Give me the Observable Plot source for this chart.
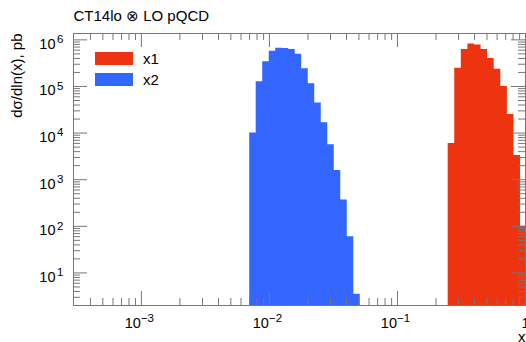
<!DOCTYPE html>
<html><head><meta charset="utf-8">
<script src="https://cdn.jsdelivr.net/npm/d3@7"></script>
<script src="https://cdn.jsdelivr.net/npm/@observablehq/plot@0.6"></script>
<style>
body{margin:0;background:#fff;}
#wrap{position:relative;width:526px;height:342px;overflow:hidden;font-family:"Liberation Sans",Arial,Helvetica,sans-serif;}
#wrap svg{display:block;}
.leg{position:absolute;left:95px;height:13px;display:flex;align-items:center;font-size:15px;color:#000;}
.sw{width:38px;height:13px;margin-right:10px;flex:none;}
</style></head><body><div id="wrap"></div>
<script>
// ---- data ----
const title = "CT14lo \u2297 LO pQCD";
const yLabel = "d\u03c3/dln(x), pb";
const xLabel = "x";
const seriesNames = ["x1", "x2"];
const seriesColors = ["#ee3311", "#3366ff"];

// x1 histogram: bin edges (x) and bin contents
const x1Edges = [0.2489, 0.2802, 0.3153, 0.3549, 0.3995, 0.4498, 0.5062, 0.5698, 0.6414, 0.7220, 0.8128, 0.9149, 1.0];
const x1Values = [6.0e3, 2.46e5, 6.2e5, 8.2e5, 7.8e5, 6.2e5, 4.0e5, 2.34e5, 1.0e5, 2.5e4, 3.3e3, 1.0e2];

// x2 histogram
const x2Edges = [0.007015, 0.007884, 0.008863, 0.009963, 0.01120, 0.01259, 0.01415, 0.01591, 0.01788, 0.02010,
                 0.02259, 0.02540, 0.02855, 0.03209, 0.03607, 0.04055, 0.04558, 0.05124];
const x2Values = [1.0e4, 1.27e5, 3.4e5, 5.7e5, 6.6e5, 6.5e5, 6.2e5, 4.9e5, 2.4e5, 1.14e5,
                  4.4e4, 1.66e4, 5.6e3, 1.57e3, 369, 60, 3.5];

// axes
const xDomain = [2.95e-4, 1];
const yDomain = [2, 1.37e6];
const xDecadeTicks = [1e-3, 1e-2, 1e-1];
const xDecadeExponents = ["\u22123", "\u22122", "\u22121"];
const xUnitTick = [1];
const xUnitLabel = ["1"];
const yDecadeTicks = [1e1, 1e2, 1e3, 1e4, 1e5, 1e6];
const yDecadeExponents = ["1", "2", "3", "4", "5", "6"];
const minorMultipliers = [2, 3, 4, 5, 6, 7, 8, 9];

// ---- layout ----
const W = 526, H = 342;
const mL = 73, mR = 1, mT = 33, mB = 37;
const fw = W - mL - mR, fh = H - mT - mB;
const majorLen = 14, minorLen = 7;
const axisColor = "#777";

const xMajorAll = [...xDecadeTicks, ...xUnitTick];
const xMinor = [];
for (const d of [1e-4, 1e-3, 1e-2, 1e-1]) for (const m of minorMultipliers) {
  const v = d * m; if (v > xDomain[0] * 1.05 && v < xDomain[1]) xMinor.push(v);
}
const yMinor = [];
for (const d of [1, 1e1, 1e2, 1e3, 1e4, 1e5, 1e6]) for (const m of minorMultipliers) {
  const v = d * m; if (v > yDomain[0] * 1.02 && v < yDomain[1]) yMinor.push(v);
}

function steps(edges, values) {
  const rows = values.map((v, i) => ({x: edges[i], y: v}));
  rows.push({x: edges[edges.length - 1], y: values[values.length - 1]});
  return rows;
}
const hists = [
  {rows: steps(x1Edges, x1Values), color: seriesColors[0]},
  {rows: steps(x2Edges, x2Values), color: seriesColors[1]}
];

const fontBase = 14.5, fontSup = 11.5;

const chart = Plot.plot({
  width: W, height: H,
  marginLeft: mL, marginRight: mR, marginTop: mT, marginBottom: mB,
  style: {fontFamily: '"Liberation Sans", Arial, Helvetica, sans-serif', background: "#fff", color: "#000"},
  x: {type: "log", domain: xDomain, axis: null},
  y: {type: "log", domain: yDomain, axis: null},
  marks: [
    ...hists.map(h => Plot.areaY(h.rows, {x: "x", y1: yDomain[0], y2: "y", curve: "step-after", fill: h.color, clip: true})),
    // ticks (inward, mirrored on all four sides)
    Plot.ruleX(xMajorAll, {x: d => d, insetTop: fh - majorLen, stroke: axisColor}),
    Plot.ruleX(xMajorAll, {x: d => d, insetBottom: fh - majorLen, stroke: axisColor}),
    Plot.ruleX(xMinor, {x: d => d, insetTop: fh - minorLen, stroke: axisColor}),
    Plot.ruleX(xMinor, {x: d => d, insetBottom: fh - minorLen, stroke: axisColor}),
    Plot.ruleY(yDecadeTicks, {y: d => d, insetRight: fw - majorLen, stroke: axisColor}),
    Plot.ruleY(yDecadeTicks, {y: d => d, insetLeft: fw - majorLen, stroke: axisColor}),
    Plot.ruleY(yMinor, {y: d => d, insetRight: fw - minorLen, stroke: axisColor}),
    Plot.ruleY(yMinor, {y: d => d, insetLeft: fw - minorLen, stroke: axisColor}),
    Plot.frame({stroke: axisColor}),
    // x tick labels
    Plot.text(xDecadeTicks, {x: d => d, text: () => "10", frameAnchor: "bottom", textAnchor: "end", lineAnchor: "bottom", dy: 22, dx: -0.5, fontSize: fontBase, fill: "#000"}),
    Plot.text(xDecadeTicks, {x: d => d, text: xDecadeExponents, frameAnchor: "bottom", textAnchor: "start", lineAnchor: "bottom", dy: 16, dx: -0.5, fontSize: fontSup, fill: "#000"}),
    Plot.text(xUnitTick, {x: d => d, text: xUnitLabel, frameAnchor: "bottom", textAnchor: "middle", lineAnchor: "bottom", dy: 22, fontSize: fontBase, fill: "#000"}),
    // y tick labels
    Plot.text(yDecadeTicks, {y: d => d, text: () => "10", frameAnchor: "left", textAnchor: "end", lineAnchor: "bottom", dx: -18, dy: 9, fontSize: fontBase, fill: "#000"}),
    Plot.text(yDecadeTicks, {y: d => d, text: yDecadeExponents, frameAnchor: "left", textAnchor: "start", lineAnchor: "bottom", dx: -16.5, dy: 3.4, fontSize: fontSup, fill: "#000"}),
    // titles
    Plot.text([title], {text: d => d, frameAnchor: "top-left", textAnchor: "start", lineAnchor: "bottom", dy: -12.3, fontSize: 15, fill: "#000"}),
    Plot.text([yLabel], {text: d => d, frameAnchor: "top-left", rotate: -90, textAnchor: "end", lineAnchor: "bottom", dx: -52, dy: 0, fontSize: 15, fill: "#000"}),
    Plot.text([xLabel], {text: d => d, frameAnchor: "bottom-right", textAnchor: "end", lineAnchor: "bottom", dy: 36.5, dx: 0, fontSize: 15, fill: "#000"})
  ]
});

const wrap = document.getElementById("wrap");
wrap.appendChild(chart);

// legend
const legTops = [52.3, 73];
seriesNames.forEach((name, i) => {
  const row = document.createElement("div");
  row.className = "leg";
  row.style.top = legTops[i] + "px";
  const sw = document.createElement("div");
  sw.className = "sw";
  sw.style.background = seriesColors[i];
  const lab = document.createElement("span");
  lab.textContent = name;
  row.appendChild(sw); row.appendChild(lab);
  wrap.appendChild(row);
});
</script></body></html>
